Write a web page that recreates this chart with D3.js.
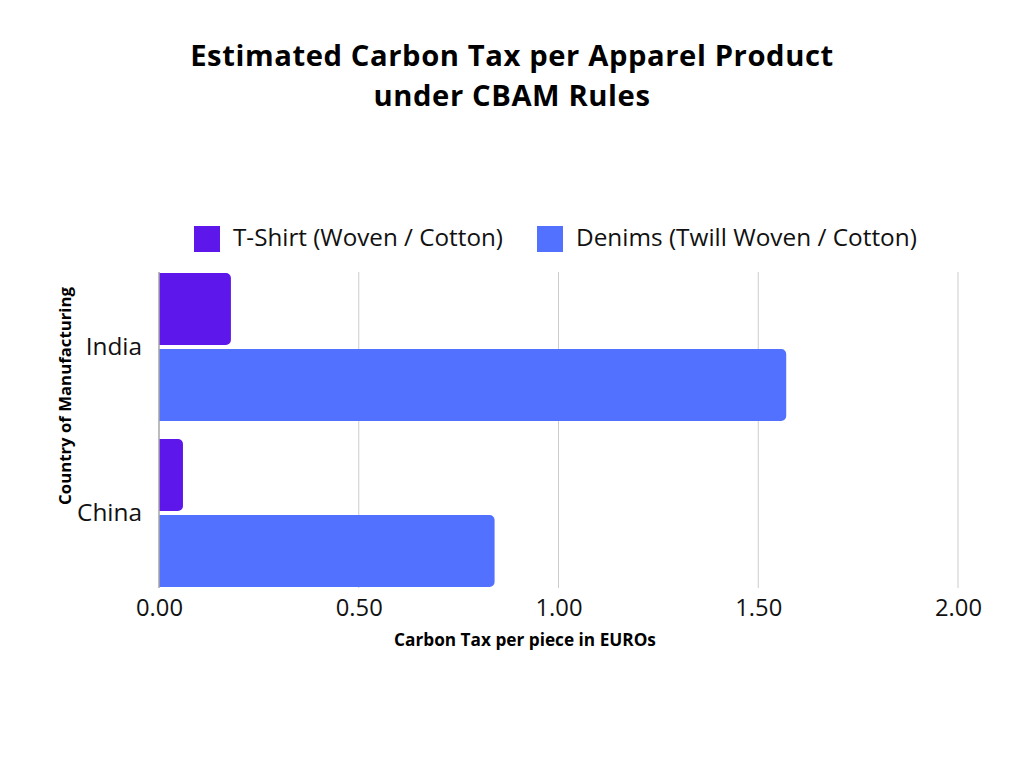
<!DOCTYPE html>
<html><head><meta charset="utf-8">
<script src="https://cdn.jsdelivr.net/npm/d3@7"></script>
<style>body{margin:0;background:#fff}svg{display:block}text{font-family:"Open Sans","Lato",sans-serif}</style>
</head><body>
<script>
const categories = ["India", "China"];
const seriesNames = ["T-Shirt (Woven / Cotton)", "Denims (Twill Woven / Cotton)"];
const tshirtValues = [0.18, 0.06];
const denimValues = [1.57, 0.84];
const xTicks = [0, 0.5, 1.0, 1.5, 2.0];
const colors = ["#5e17eb", "#5271ff"];

const W = 1024, H = 768;
const svg = d3.select("body").append("svg").attr("width", W).attr("height", H);

function fit(sel, target) {
  const n = sel.node();
  const fs = parseFloat(sel.attr("font-size"));
  const w = n.getComputedTextLength();
  if (w > 0) sel.attr("font-size", (fs * target / w).toFixed(2));
  return sel;
}

// Title
const t1 = svg.append("text").attr("x", 512).attr("y", 66).attr("text-anchor", "middle")
  .attr("font-size", 26).attr("font-weight", 700).attr("fill", "#000").attr("letter-spacing", 0.6)
  .text("Estimated Carbon Tax per Apparel Product");
fit(t1, 647);
svg.append("text").attr("x", 512).attr("y", 106).attr("text-anchor", "middle")
  .attr("font-size", t1.attr("font-size")).attr("font-weight", 700).attr("fill", "#000").attr("letter-spacing", 0.6)
  .text("under CBAM Rules");

const x = d3.scaleLinear().domain([0, 2]).range([159, 958]);
const y0 = d3.scaleBand().domain(categories).range([273, 587]).paddingInner(0.108).paddingOuter(0);
const y1 = d3.scaleBand().domain(seriesNames).range([0, y0.bandwidth()]).paddingInner(0.053).paddingOuter(0);

// gridlines
svg.append("g").selectAll("line").data(xTicks.slice(1)).join("line")
  .attr("x1", d => x(d)).attr("x2", d => x(d)).attr("y1", 272).attr("y2", 588)
  .attr("stroke", "#cccccc").attr("stroke-width", 1);

// bars
const data = categories.map((c, i) => ({cat: c, vals: [tshirtValues[i], denimValues[i]]}));
const r = 5;
function barPath(x0, x1, yt, h) {
  const rr = Math.min(r, (x1 - x0) / 2, h / 2);
  return `M${x0},${yt}H${x1 - rr}A${rr},${rr} 0 0 1 ${x1},${yt + rr}V${yt + h - rr}A${rr},${rr} 0 0 1 ${x1 - rr},${yt + h}H${x0}Z`;
}
const g = svg.append("g");
data.forEach(d => {
  d.vals.forEach((v, j) => {
    g.append("path")
      .attr("d", barPath(x(0), x(v), y0(d.cat) + y1(seriesNames[j]), y1.bandwidth()))
      .attr("fill", colors[j]);
  });
});

// y axis line
svg.append("line").attr("x1", 159).attr("x2", 159).attr("y1", 272).attr("y2", 588)
  .attr("stroke", "#a6a6a6").attr("stroke-width", 1.5);

// x tick labels
const xAxis = svg.append("g").attr("transform", "translate(0,588)")
  .call(d3.axisBottom(x).tickValues(xTicks).tickFormat(d3.format(".2f")).tickSize(0).tickPadding(11));
xAxis.select(".domain").remove();
const tickTexts = xAxis.selectAll("text").attr("font-size", 21).attr("fill", "#111").attr("font-weight", 400)
  .attr("font-family", '"Open Sans", sans-serif');
fit(d3.select(tickTexts.nodes()[0]), 47);
tickTexts.attr("font-size", d3.select(tickTexts.nodes()[0]).attr("font-size"));

// y category labels
const cl = svg.append("g").selectAll("text").data(categories).join("text")
  .attr("x", 142).attr("y", d => y0(d) + y0.bandwidth() / 2 + 1)
  .attr("text-anchor", "end").attr("dominant-baseline", "middle")
  .attr("font-size", 21).attr("font-weight", 400).attr("fill", "#111").text(d => d);
fit(d3.select(cl.nodes()[1]), 65);
cl.attr("font-size", d3.select(cl.nodes()[1]).attr("font-size"));

// axis titles
const xt = svg.append("text").attr("x", 525).attr("y", 646).attr("text-anchor", "middle")
  .attr("font-size", 14).attr("font-weight", 700).attr("fill", "#000").text("Carbon Tax per piece in EUROs");
fit(xt, 262);
const yt = svg.append("text").attr("transform", "translate(71,396) rotate(-90)").attr("text-anchor", "middle")
  .attr("font-size", 14).attr("font-weight", 700).attr("fill", "#000").text("Country of Manufacturing");
fit(yt, 218);

// legend
const legX = [194, 537];
seriesNames.forEach((s, j) => {
  svg.append("rect").attr("x", legX[j]).attr("y", 226).attr("width", 26).attr("height", 26).attr("fill", colors[j]);
  const lt = svg.append("text").attr("x", legX[j] + 39).attr("y", 246)
    .attr("font-size", 21).attr("font-weight", 400).attr("fill", "#111").text(s);
  fit(lt, j === 0 ? 270 : 341);
});
</script>
</body></html>
